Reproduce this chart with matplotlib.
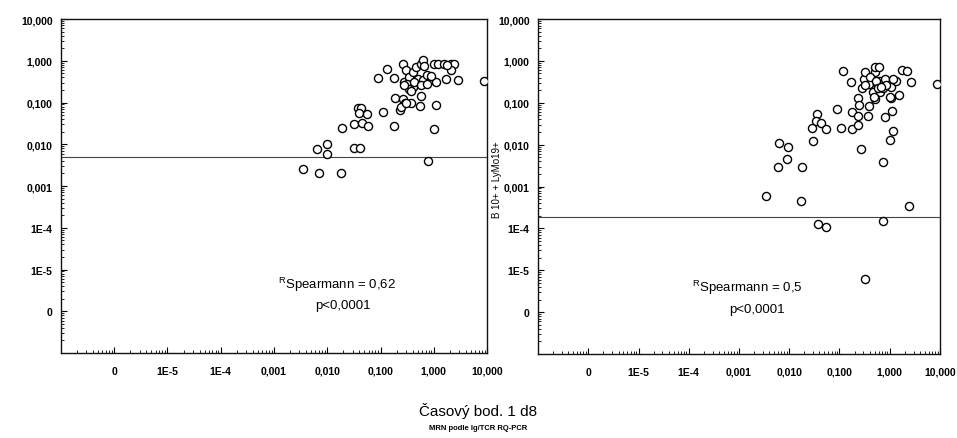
import matplotlib
matplotlib.use("Agg")
import matplotlib.pyplot as plt
from matplotlib.ticker import FixedLocator, FixedFormatter, LogLocator, NullFormatter

# ---- data: left panel ----
left_x = [0.0035, 0.0069, 0.0185, 0.0065, 0.0100, 0.0101, 0.032, 0.041, 0.019, 0.032,
          0.044, 0.059, 0.037, 0.043, 0.040, 0.055, 0.11, 0.18, 0.091, 0.13,
          0.18, 0.19, 0.23, 0.26, 0.29, 0.38, 0.55, 0.58, 0.77, 1.0,
          1.12, 0.26, 0.30, 0.28, 0.35, 0.40, 0.46, 0.57, 0.64, 0.66,
          0.50, 0.62, 0.76, 0.88, 1.09, 1.0, 1.2, 1.56, 2.1, 2.4,
          2.1, 1.7, 2.8, 0.40, 0.32, 0.43, 0.57, 0.76, 0.24, 0.30,
          8.7, 0.35, 0.28, 0.38, 0.88, 1.8]
left_y = [0.0026, 0.0020, 0.0020, 0.0076, 0.0102, 0.0059, 0.0082, 0.0082, 0.025, 0.030,
          0.033, 0.028, 0.075, 0.075, 0.055, 0.053, 0.058, 0.028, 0.39, 0.62,
          0.39, 0.13, 0.068, 0.12, 0.095, 0.10, 0.082, 0.14, 0.0040, 0.023,
          0.087, 0.85, 0.59, 0.31, 0.41, 0.54, 0.71, 0.85, 1.07, 0.77,
          0.37, 0.34, 0.45, 0.34, 0.31, 0.85, 0.82, 0.85, 0.82, 0.83,
          0.59, 0.36, 0.34, 0.24, 0.28, 0.31, 0.26, 0.28, 0.079, 0.10,
          0.32, 0.21, 0.27, 0.19, 0.43, 0.80]
left_threshold = 0.005

# ---- data: right panel ----
right_x = [0.0034, 0.017, 0.0059, 0.0090, 0.0064, 0.0094, 0.018, 0.030, 0.029, 0.035,
           0.034, 0.043, 0.055, 0.089, 0.107, 0.12, 0.17, 0.18, 0.18, 0.23,
           0.25, 0.23, 0.23, 0.27, 0.38, 0.37, 0.28, 0.31, 0.32, 0.38,
           0.47, 0.51, 0.51, 0.50, 0.60, 0.64, 0.55, 0.64, 0.81, 0.75,
           0.81, 0.75, 0.99, 1.18, 1.13, 1.05, 1.05, 1.34, 1.56, 1.76,
           2.2, 2.6, 2.4, 8.6, 0.038, 0.053, 0.74, 0.32, 0.40, 0.54,
           0.86, 1.16, 0.32, 0.58, 0.68, 1.0, 0.49]
right_y = [0.00060, 0.00044, 0.0030, 0.0045, 0.011, 0.0089, 0.0030, 0.012, 0.025, 0.053,
           0.037, 0.032, 0.023, 0.072, 0.025, 0.56, 0.32, 0.060, 0.023, 0.13,
           0.089, 0.048, 0.030, 0.0079, 0.083, 0.048, 0.22, 0.37, 0.54, 0.28,
           0.18, 0.12, 0.54, 0.71, 0.73, 0.34, 0.28, 0.18, 0.37, 0.22,
           0.046, 0.0039, 0.013, 0.021, 0.062, 0.13, 0.24, 0.34, 0.15, 0.61,
           0.56, 0.32, 0.00035, 0.28, 1.3e-4, 1.1e-4, 1.5e-4, 6.1e-6, 0.41, 0.34,
           0.26, 0.37, 0.26, 0.22, 0.24, 0.137, 0.137]
right_threshold = 0.000186

tick_values = [1e-6, 1e-5, 1e-4, 1e-3, 1e-2, 1e-1, 1, 10]
tick_labels = ["0", "1E-5", "1E-4", "0,001", "0,010", "0,100", "1,000", "10,000"]

left_text = ["$^{\\mathregular{R}}$Spearmann = 0,62", "p<0,0001"]
right_text = ["$^{\\mathregular{R}}$Spearmann = 0,5", "p<0,0001"]
right_ylabel = "B 10+ + LyMo19+"
xlabel_main = "Časový bod. 1 d8"
xlabel_sub = "MRN podle Ig/TCR RQ-PCR"

plt.rcParams['font.family'] = ['Liberation Sans', 'DejaVu Sans']

fig = plt.figure(figsize=(9.57, 4.39), dpi=100)
ax1 = fig.add_axes([0.0637, 0.1936, 0.4452, 0.7608])
ax2 = fig.add_axes([0.5622, 0.1913, 0.4200, 0.7631])


def style(ax):
    ax.set_xscale('log')
    ax.set_yscale('log')
    ax.set_xlim(1e-7, 10)
    ax.set_ylim(1e-7, 10)
    for axis in (ax.xaxis, ax.yaxis):
        axis.set_major_locator(FixedLocator(tick_values))
        axis.set_major_formatter(FixedFormatter(tick_labels))
        axis.set_minor_locator(LogLocator(base=10, subs=range(2, 10), numticks=50))
        axis.set_minor_formatter(NullFormatter())
    ax.tick_params(which='major', direction='in', length=4, width=0.8,
                   labelsize=7.5, pad=6)
    ax.tick_params(which='minor', direction='in', length=2.2, width=0.6)
    ax.tick_params(axis='x', pad=9)
    for lab in ax.get_xticklabels() + ax.get_yticklabels():
        lab.set_fontweight('bold')
    for sp in ax.spines.values():
        sp.set_linewidth(1.0)
        sp.set_color('#111111')


for ax, xs, ys, thr in [(ax1, left_x, left_y, left_threshold),
                        (ax2, right_x, right_y, right_threshold)]:
    style(ax)
    ax.scatter(xs, ys, s=34, facecolors='white', edgecolors='black',
               linewidths=1.0, zorder=3)
    ax.axhline(thr, color='#444444', linewidth=0.8, zorder=2)

ax1.text(0.647, 0.207, left_text[0], transform=ax1.transAxes, ha='center',
         va='center', fontsize=9.5)
ax1.text(0.662, 0.144, left_text[1], transform=ax1.transAxes, ha='center',
         va='center', fontsize=9.5)
ax2.text(0.521, 0.200, right_text[0], transform=ax2.transAxes, ha='center',
         va='center', fontsize=9.5)
ax2.text(0.545, 0.134, right_text[1], transform=ax2.transAxes, ha='center',
         va='center', fontsize=9.5)

ax2.set_ylabel(right_ylabel, fontsize=7)
ax2.yaxis.set_label_coords(-0.09, 0.525)

fig.text(0.4995, 0.064, xlabel_main, ha='center', va='center', fontsize=11)
fig.text(0.4995, 0.025, xlabel_sub, ha='center', va='center', fontsize=5.5,
         fontweight='bold')

fig.savefig("out.png", dpi=100)
